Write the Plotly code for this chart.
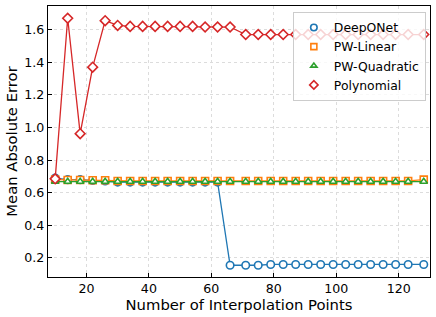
import plotly.graph_objects as go

x_points = [10, 14, 18, 22, 26, 30, 34, 38, 42, 46, 50, 54, 58, 62, 66,
            71, 75, 79, 83, 87, 91, 95, 99, 103, 107, 111, 115, 119, 123, 128]

deeponet = [0.69, 0.68, 0.68, 0.675, 0.672, 0.665, 0.665, 0.665, 0.665, 0.665,
            0.665, 0.665, 0.665, 0.665, 0.155, 0.155, 0.155, 0.16, 0.16, 0.16,
            0.16, 0.16, 0.16, 0.16, 0.16, 0.16, 0.16, 0.16, 0.16, 0.16]
pw_linear = [0.68, 0.678, 0.678, 0.676, 0.676, 0.672, 0.672, 0.672, 0.672, 0.672,
             0.672, 0.672, 0.672, 0.672, 0.672, 0.672, 0.672, 0.672, 0.672, 0.672,
             0.672, 0.672, 0.672, 0.672, 0.672, 0.672, 0.672, 0.672, 0.672, 0.68]
pw_quadratic = [0.668] * 30
polynomial = [0.685, 1.67, 0.962, 1.37, 1.655, 1.626, 1.62, 1.62, 1.62, 1.62,
              1.62, 1.62, 1.616, 1.616, 1.616, 1.57, 1.57, 1.57, 1.57, 1.57,
              1.57, 1.57, 1.57, 1.57, 1.57, 1.57, 1.57, 1.57, 1.57, 1.57]

x_ticks = [20, 40, 60, 80, 100, 120]
y_ticks = [0.2, 0.4, 0.6, 0.8, 1.0, 1.2, 1.4, 1.6]
y_tick_labels = ["0.2", "0.4", "0.6", "0.8", "1.0", "1.2", "1.4", "1.6"]

series = [
    ("DeepONet", deeponet, "#1f77b4", "circle", 7.5),
    ("PW-Linear", pw_linear, "#ff7f0e", "square", 7),
    ("PW-Quadratic", pw_quadratic, "#2ca02c", "triangle-up", 6.5),
    ("Polynomial", polynomial, "#d62728", "diamond", 7.5),
]

fig = go.Figure()
for name, vals, color, sym, size in series:
    fig.add_trace(go.Scatter(
        x=x_points, y=vals, mode="lines+markers", name=name, showlegend=False,
        line=dict(color=color, width=1.3),
        marker=dict(symbol=sym, size=size, color="white",
                    line=dict(color=color, width=1.6)),
    ))
for name, vals, color, sym, size in series:
    fig.add_trace(go.Scatter(
        x=[None], y=[None], mode="markers", name=name,
        marker=dict(symbol=sym, size=size - 1, color="white",
                    line=dict(color=color, width=1.6)),
    ))

axis_common = dict(
    showline=True, linecolor="black", linewidth=1.2, mirror=True,
    ticks="inside", ticklen=4, tickcolor="black", tickwidth=1,
    showgrid=True, gridcolor="#dcdcdc", griddash="dot", gridwidth=1,
    zeroline=False, automargin=False,
    tickfont=dict(family="DejaVu Sans", size=12.6, color="black"),
)

fig.update_layout(
    width=436, height=317,
    margin=dict(l=48, r=6, t=6, b=40),
    plot_bgcolor="white", paper_bgcolor="white",
    font=dict(family="DejaVu Sans", color="black"),
    xaxis=dict(range=[7.7, 130], tickvals=x_ticks,
               title=dict(text="Number of Interpolation Points",
                          font=dict(size=14.8), standoff=3),
               **axis_common),
    yaxis=dict(range=[0.083, 1.745], tickvals=y_ticks, ticktext=y_tick_labels,
               title=dict(text="Mean Absolute Error", font=dict(size=14.8), standoff=3),
               **axis_common),
    legend=dict(x=0.641, y=0.978, xanchor="left", yanchor="top",
                bgcolor="rgba(255,255,255,0.8)", bordercolor="#cccccc", borderwidth=1,
                font=dict(family="DejaVu Sans", size=12.4), tracegroupgap=0,
                itemwidth=30),
)

fig.write_html("out.html", config={"displayModeBar": False},
               post_script="document.body.style.margin='0';")
